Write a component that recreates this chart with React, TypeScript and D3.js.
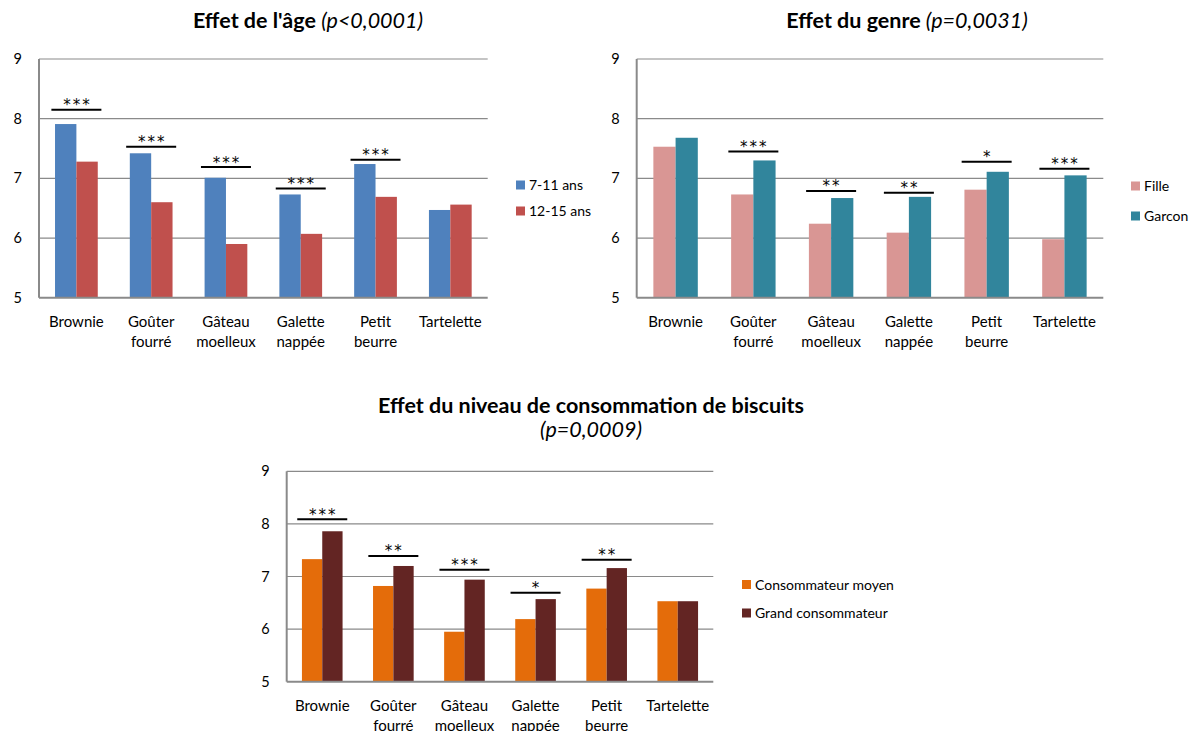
import React from "react";
import * as d3 from "d3";

const categories = ["Brownie", "Goûter fourré", "Gâteau moelleux", "Galette nappée", "Petit beurre", "Tartelette"];
const yTicks = [5, 6, 7, 8, 9];

const ageSeries = ["7-11 ans", "12-15 ans"];
const age711 = [7.91, 7.42, 7.01, 6.73, 7.24, 6.47];
const age1215 = [7.28, 6.6, 5.9, 6.07, 6.69, 6.56];
const ageSig = ["***", "***", "***", "***", "***", ""];
const ageSigLevel = [8.15, 7.53, 7.19, 6.83, 7.31, null];

const genreSeries = ["Fille", "Garcon"];
const genreFille = [7.53, 6.73, 6.24, 6.09, 6.81, 5.98];
const genreGarcon = [7.68, 7.3, 6.67, 6.69, 7.11, 7.05];
const genreSig = ["", "***", "**", "**", "*", "***"];
const genreSigLevel = [null, 7.45, 6.79, 6.76, 7.28, 7.16];

const consoSeries = ["Consommateur moyen", "Grand consommateur"];
const consoMoyen = [7.33, 6.82, 5.95, 6.19, 6.77, 6.53];
const consoGrand = [7.86, 7.2, 6.94, 6.57, 7.16, 6.53];
const consoSig = ["***", "**", "***", "*", "**", ""];
const consoSigLevel = [8.09, 7.39, 7.13, 6.69, 7.32, null];

const FONT = "Lato, 'Open Sans', sans-serif";

type ChartProps = {
  left: number; right: number; top: number; bottom: number;
  titleBold: string; titleItalic: string; titleX: number; titleY: number; twoLineTitle?: boolean;
  series: string[]; values: number[][]; colors: string[];
  sig: string[]; sigLevel: (number | null)[];
  legendX: number; legendY: number[];
};

function Chart(p: ChartProps) {
  const x = d3.scaleBand<string>().domain(categories).range([p.left, p.right]).padding(0);
  const inner = d3.scaleBand<number>().domain([0, 1]).range([0, x.bandwidth()]).paddingInner(0).paddingOuter(0.75);
  const y = d3.scaleLinear().domain([5, 9]).range([p.bottom, p.top]);
  const grid = "#8a8a8a";
  return (
    <g>
      {p.twoLineTitle ? (
        <text x={p.titleX} y={p.titleY} textAnchor="middle" fontFamily={FONT} fontSize={21.5} fill="#000">
          <tspan fontWeight="bold">{p.titleBold}</tspan>
          <tspan x={p.titleX} dy={24} fontStyle="italic">{p.titleItalic}</tspan>
        </text>
      ) : (
        <text x={p.titleX} y={p.titleY} textAnchor="middle" fontFamily={FONT} fontSize={21.5} fill="#000">
          <tspan fontWeight="bold">{p.titleBold} </tspan>
          <tspan fontStyle="italic">{p.titleItalic}</tspan>
        </text>
      )}
      {yTicks.map((t) => (
        <g key={t}>
          {t > 5 && <line x1={p.left} x2={p.right} y1={y(t)} y2={y(t)} stroke={grid} strokeWidth={1.2} />}
          <text x={p.left - 17} y={y(t) + 5} textAnchor="end" fontFamily={FONT} fontSize={14.5} fill="#000">{t}</text>
        </g>
      ))}
      {categories.map((c, i) => (
        <g key={c}>
          {p.values.map((vals, s) => (
            <rect key={s} x={(x(c) as number) + (inner(s) as number)} y={y(vals[i])} width={inner.bandwidth()}
              height={y(5) - y(vals[i])} fill={p.colors[s]} />
          ))}
        </g>
      ))}
      <line x1={p.left} x2={p.left} y1={p.top} y2={p.bottom} stroke={grid} strokeWidth={2} />
      <line x1={p.left} x2={p.right} y1={p.bottom} y2={p.bottom} stroke={grid} strokeWidth={2} />
      {categories.map((c, i) => {
        const cx = (x(c) as number) + x.bandwidth() / 2;
        const lines = c.split(" ");
        return (
          <g key={c}>
            <text x={cx} y={p.bottom + 29} textAnchor="middle" fontFamily={FONT} fontSize={15} fill="#000">
              {lines.map((l, k) => (
                <tspan key={k} x={cx} dy={k === 0 ? 0 : 20}>{l}</tspan>
              ))}
            </text>
            {p.sigLevel[i] != null && (
              <g>
                <line x1={cx - 25} x2={cx + 25} y1={y(p.sigLevel[i] as number)} y2={y(p.sigLevel[i] as number)} stroke="#000" strokeWidth={2} />
                <text x={cx + 1} y={y(p.sigLevel[i] as number) + 0.5} textAnchor="middle" fontFamily="'DejaVu Sans', sans-serif" fontSize={15}
                  letterSpacing={2} fill="#000">{p.sig[i]}</text>
              </g>
            )}
          </g>
        );
      })}
      {p.series.map((s, k) => (
        <g key={s}>
          <rect x={p.legendX} y={p.legendY[k] - 4.5} width={9} height={9} fill={p.colors[k]} />
          <text x={p.legendX + 13} y={p.legendY[k] + 5} fontFamily={FONT} fontSize={14} fill="#000">{s}</text>
        </g>
      ))}
    </g>
  );
}

export default function App() {
  return (
    <div style={{ position: "absolute", left: 0, top: 0 }}>
      <svg width={1194} height={731} style={{ display: "block", background: "#fff" }}>
        <Chart left={39} right={487.7} top={59} bottom={297.7}
          titleBold="Effet de l'âge" titleItalic="(p<0,0001)" titleX={308} titleY={28}
          series={ageSeries} values={[age711, age1215]} colors={["#4F81BD", "#C0504D"]}
          sig={ageSig} sigLevel={ageSigLevel} legendX={516} legendY={[185, 211]} />
        <Chart left={636.7} right={1103.3} top={59} bottom={297.7}
          titleBold="Effet du genre" titleItalic="(p=0,0031)" titleX={907} titleY={28}
          series={genreSeries} values={[genreFille, genreGarcon]} colors={["#D99694", "#31859C"]}
          sig={genreSig} sigLevel={genreSigLevel} legendX={1131} legendY={[186, 216]} />
        <Chart left={286.7} right={713.3} top={471.3} bottom={681.7}
          titleBold="Effet du niveau de consommation de biscuits" titleItalic="(p=0,0009)" titleX={591} titleY={413} twoLineTitle
          series={consoSeries} values={[consoMoyen, consoGrand]} colors={["#E46C0A", "#632523"]}
          sig={consoSig} sigLevel={consoSigLevel} legendX={742} legendY={[584.5, 613]} />
      </svg>
    </div>
  );
}
